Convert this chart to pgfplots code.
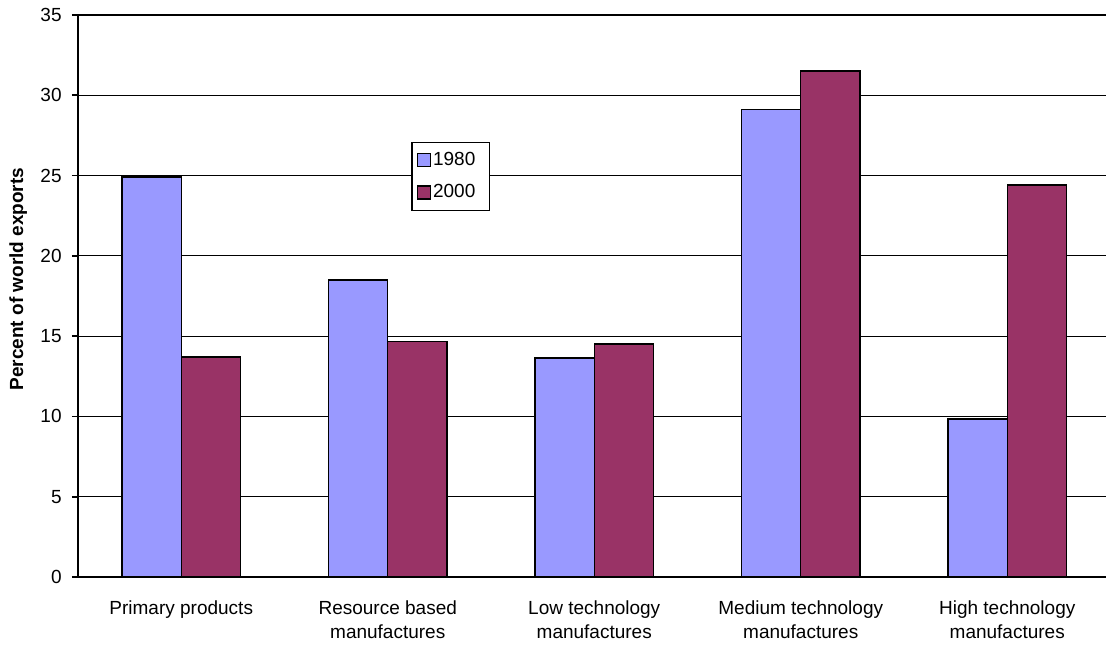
\documentclass[border=0pt]{standalone}
\usepackage{fontspec}
\setmainfont{Liberation Sans}
\usepackage{pgfplots}
\pgfplotsset{compat=1.18}

\definecolor{c1980}{HTML}{9999FF}
\definecolor{c2000}{HTML}{993366}

\begin{document}
\fontsize{9.5}{12.5}\selectfont
\begin{tikzpicture}
% page = 1106 x 647 px at 0.5pt per px; axis box south west at (0,0)
\useasboundingbox (-39pt,-35pt) rectangle (514pt,288.5pt);
\begin{axis}[
  scale only axis,
  width=516.25pt,
  height=281pt,
  ybar=0pt,
  bar width=0.286,
  xmin=-0.5, xmax=4.5,
  ymin=0, ymax=35,
  ytick={0,5,...,35},
  xtick={0,1,2,3,4},
  xticklabels={{Primary products},{Resource based\\manufactures},{Low technology\\manufactures},{Medium technology\\manufactures},{High technology\\manufactures}},
  minor xtick={-0.5,0.5,...,4.5},
  axis x line*=bottom,
  axis y line*=left,
  axis line style={line width=0.9pt,-},
  tick align=outside,
  major tick length=3pt,
  minor tick length=3pt,
  xtick style={draw=none},
  every minor tick/.style={black,line width=0.8pt},
  every major tick/.append style={black,line width=0.8pt},
  ymajorgrids,
  grid style={black,line width=0.6pt},
  /pgf/number format/assume math mode=true,
  yticklabel style={inner sep=0pt,anchor=east,xshift=-5pt},
  xticklabel style={inner sep=0pt,anchor=north,align=center,yshift=-8.5pt,
    font=\fontsize{9.5}{12.3}\selectfont},
  ylabel={\bfseries Percent of world exports},
  ylabel style={at={(axis description cs:-0.058,0.53)},anchor=center,rotate=0},
  legend style={at={(axis description cs:0.323,0.774)},anchor=north west,
    draw=black,line width=0.6pt,inner xsep=2.5pt,inner ysep=4pt,
    row sep=6.5pt,
    nodes={inner sep=0.8pt,anchor=west}},
  legend cell align=left,
  legend image code/.code={\draw[#1,line width=0.7pt] (0pt,-3.25pt) rectangle (6.5pt,3.25pt);},
]
\addplot[fill=c1980,draw=black,line width=0.7pt] coordinates {(0,24.9) (1,18.5) (2,13.65) (3,29.1) (4,9.85)};
\addplot[fill=c2000,draw=black,line width=0.7pt] coordinates {(0,13.7) (1,14.65) (2,14.5) (3,31.5) (4,24.4)};
\legend{\makebox[25pt][l]{1980},\makebox[25pt][l]{2000}}
\end{axis}
\end{tikzpicture}
\end{document}
